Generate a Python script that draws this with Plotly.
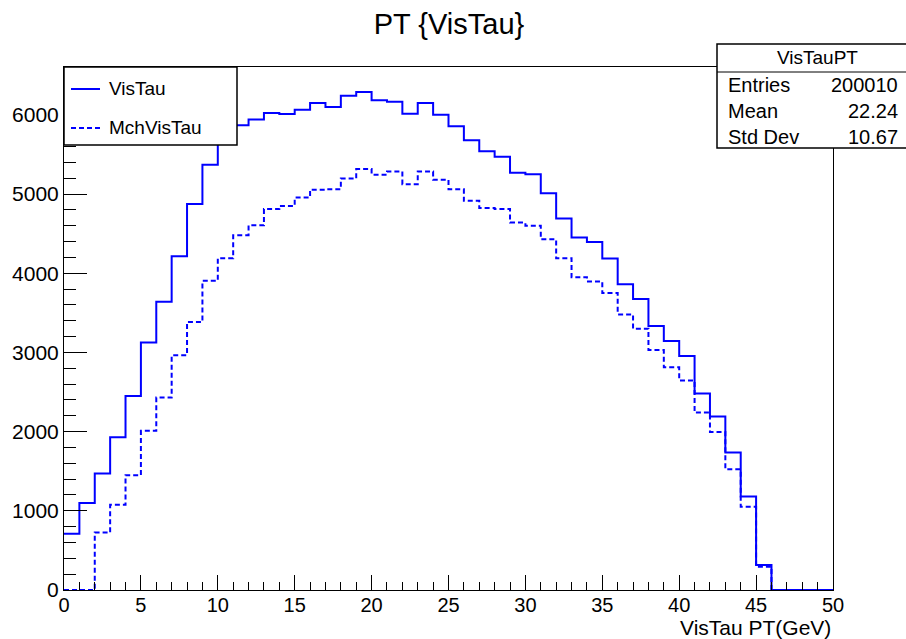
import plotly.graph_objects as go

# Histogram binning: 50 bins of 1 GeV from 0 to 50
bin_edges = list(range(0, 51))

# Bin contents for the visible tau PT
vistau_counts = [
    710, 1100, 1470, 1930, 2450, 3125, 3640, 4215, 4875, 5370,
    5780, 5870, 5940, 6025, 6010, 6065, 6150, 6100, 6240, 6290,
    6185, 6165, 6015, 6150, 6000, 5855, 5680, 5540, 5470, 5270,
    5250, 5010, 4690, 4450, 4395, 4185, 3860, 3675, 3333, 3145,
    2955, 2480, 2190, 1735, 1180, 315, 0, 0, 0, 0,
]

# Bin contents for the matched visible tau PT
mchvistau_counts = [
    0, 0, 725, 1075, 1450, 2010, 2430, 2965, 3385, 3905,
    4190, 4480, 4605, 4810, 4850, 4955, 5055, 5060, 5195, 5315,
    5245, 5285, 5125, 5285, 5180, 5060, 4915, 4825, 4810, 4640,
    4600, 4430, 4190, 3950, 3895, 3750, 3480, 3300, 3030, 2812,
    2645, 2240, 1995, 1525, 1050, 295, 0, 0, 0, 0,
]

series_names = ["VisTau", "MchVisTau"]
stats_title = "VisTauPT"
stats_labels = ["Entries", "Mean", "Std Dev"]
stats_values = ["200010", "22.24", "10.67"]

x_ticks = [0, 5, 10, 15, 20, 25, 30, 35, 40, 45, 50]
y_ticks = [0, 1000, 2000, 3000, 4000, 5000, 6000]

W, H = 906, 639
ML, MR, MT, MB = 64, 73, 67, 49
PW, PH = W - ML - MR, H - MT - MB
FONT = "Liberation Sans, Arial, Helvetica, sans-serif"
BLUE = "#0000ff"


def px(x):
    """Pixel column -> paper x."""
    return (x - ML) / PW


def py(y):
    """Pixel row -> paper y."""
    return (H - MB - y) / PH


def step_y(counts):
    # 'hv' steps: one point per left bin edge, plus the closing right edge
    return counts + [counts[-1]]


ymax = 1.05 * max(vistau_counts)

fig = go.Figure()
fig.add_trace(go.Scatter(
    x=bin_edges, y=step_y(vistau_counts), mode="lines", line_shape="hv",
    line=dict(color=BLUE, width=2), name=series_names[0],
))
fig.add_trace(go.Scatter(
    x=bin_edges, y=step_y(mchvistau_counts), mode="lines", line_shape="hv",
    line=dict(color=BLUE, width=2, dash="5px,3px"), name=series_names[1],
))

axis_common = dict(
    showline=True, linecolor="black", linewidth=1, mirror=True,
    showgrid=False, zeroline=False, ticks="inside", tickcolor="black",
    tickwidth=1,
)

fig.update_xaxes(
    range=[0, 50], tickvals=x_ticks, ticktext=[str(v) for v in x_ticks],
    ticklen=15, ticklabelstandoff=-3,
    tickfont=dict(family=FONT, size=20, color="black"),
    minor=dict(ticks="inside", dtick=1, ticklen=8, tickcolor="black", tickwidth=1),
    **axis_common,
)
fig.update_yaxes(
    range=[0, ymax], tickvals=y_ticks, ticktext=[str(v) for v in y_ticks],
    ticklen=23,
    tickfont=dict(family=FONT, size=21, color="black"),
    minor=dict(ticks="inside", dtick=200, ticklen=12, tickcolor="black", tickwidth=1),
    **axis_common,
)

shapes = []
annotations = []

# Legend box drawn over the histograms
lx0, lx1, ly0, ly1 = 64, 237, 67, 145
shapes.append(dict(type="rect", xref="paper", yref="paper",
                   x0=px(lx0), x1=px(lx1), y0=py(ly1), y1=py(ly0),
                   fillcolor="white", line=dict(color="black", width=1.5),
                   layer="above"))
for name, yrow, dash in [(series_names[0], 89, "solid"), (series_names[1], 128, "5px,3px")]:
    shapes.append(dict(type="line", xref="paper", yref="paper",
                       x0=px(71), x1=px(100), y0=py(yrow), y1=py(yrow),
                       line=dict(color=BLUE, width=2, dash=dash), layer="above"))
    annotations.append(dict(text=name, xref="paper", yref="paper",
                            x=px(107), y=py(yrow), xanchor="left", yanchor="middle",
                            showarrow=False,
                            font=dict(family=FONT, size=19, color="black")))

# Statistics box
sx0, sx1, sy0, sy1, sdiv = 717, 918, 44, 148, 72
shapes.append(dict(type="rect", xref="paper", yref="paper",
                   x0=px(sx0), x1=px(sx1), y0=py(sy1), y1=py(sy0),
                   fillcolor="white", line=dict(color="black", width=1.5),
                   layer="above"))
shapes.append(dict(type="line", xref="paper", yref="paper",
                   x0=px(sx0), x1=px(sx1), y0=py(sdiv), y1=py(sdiv),
                   line=dict(color="black", width=1), layer="above"))
annotations.append(dict(text=stats_title, xref="paper", yref="paper",
                        x=px(817.5), y=py(58), xanchor="center", yanchor="middle",
                        showarrow=False,
                        font=dict(family=FONT, size=19, color="black")))
for label, value, yrow in zip(stats_labels, stats_values, [85, 111, 137]):
    annotations.append(dict(text=label, xref="paper", yref="paper",
                            x=px(726), y=py(yrow), xanchor="left", yanchor="middle",
                            showarrow=False,
                            font=dict(family=FONT, size=20, color="black")))
    annotations.append(dict(text=value, xref="paper", yref="paper",
                            x=px(900), y=py(yrow), xanchor="right", yanchor="middle",
                            showarrow=False,
                            font=dict(family=FONT, size=20, color="black")))

# X axis title, right-aligned at the end of the axis
annotations.append(dict(text="VisTau PT(GeV)", xref="paper", yref="paper",
                        x=1.0, y=py(627), xanchor="right", yanchor="middle",
                        showarrow=False,
                        font=dict(family=FONT, size=21, color="black")))

fig.update_layout(
    width=W, height=H,
    margin=dict(l=ML, r=MR, t=MT, b=MB, pad=0),
    paper_bgcolor="white", plot_bgcolor="white",
    showlegend=False,
    title=dict(text="PT {VisTau}", x=449 / W, xanchor="center",
               y=1 - 24 / H, yanchor="middle",
               font=dict(family=FONT, size=29, color="black")),
    shapes=shapes, annotations=annotations,
)

fig.write_html("out.html")
